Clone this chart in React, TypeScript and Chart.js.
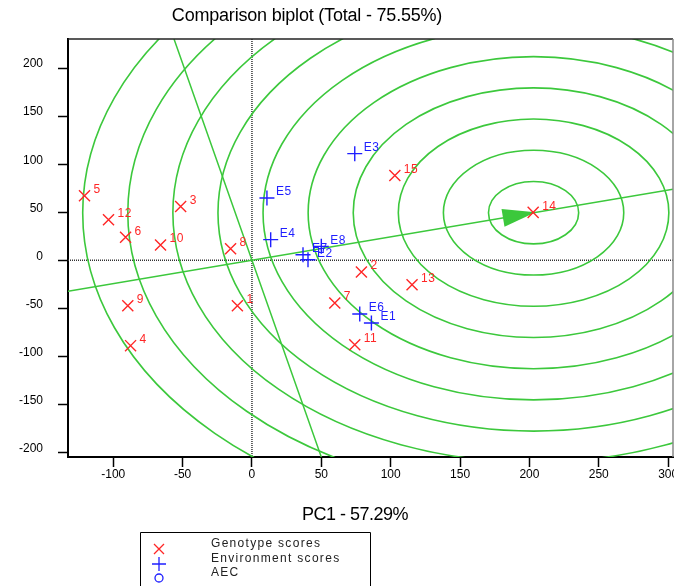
import { useEffect, useRef } from "react";
import { Chart, registerables } from "chart.js";

Chart.register(...registerables);

// ---- data ----
const genotypeLabels = ["1", "2", "3", "4", "5", "6", "7", "8", "9", "10", "11", "12", "13", "14", "15"];
const genotypeX = [-10.5, 78.9, -51.4, -87.5, -120.7, -91.1, 59.7, -15.4, -89.5, -65.9, 74.1, -103.4, 115.4, 202.7, 103];
const genotypeY = [-47.4, -12.3, 56, -89, 67.2, 23.8, -44.6, 12, -47.4, 15.8, -88, 42.2, -25.5, 49.8, 88.3];

const envLabels = ["E1", "E2", "E3", "E4", "E5", "E6", "E7", "E8"];
const envX = [86.1, 40.4, 74.1, 13.5, 10.8, 77.7, 36.8, 50];
const envY = [-65.4, 0.5, 111, 21.4, 64.8, -56, 5.7, 14.4];

// ideal (AEC) point and concentric rings
const idealPoint = [203, 49.5];
const ringStep = 32.5;
const ringCount = 10;

const xRange = [-132.6, 303.5];
const yRange = [-205, 230.4];
const tickStep = 50;

const titleText = "Comparison biplot (Total - 75.55%)";
const xTitleText = "PC1 - 57.29%";
const legendItems = ["Genotype scores", "Environment scores", "AEC"];

const RED = "#ff2626";
const BLUE = "#1f1fff";
const GREEN = "#3cc83c";
const FONT = "'Liberation Sans', Arial, sans-serif";

const zeroPadding = () => ({ left: 0, top: 0, right: 0, bottom: 0 });

const biplotPlugin = {
  id: "biplot",
  beforeDatasetsDraw(chart: any) {
    const { ctx, chartArea: a, scales } = chart;
    const xs = scales.x;
    const ys = scales.y;
    ctx.save();
    ctx.beginPath();
    ctx.rect(a.left, a.top, a.right - a.left, a.bottom - a.top);
    ctx.clip();

    // dotted zero lines
    ctx.strokeStyle = "#333";
    ctx.lineWidth = 1.5;
    ctx.setLineDash([1, 1]);
    const x0 = xs.getPixelForValue(0);
    const y0 = ys.getPixelForValue(0);
    ctx.beginPath();
    ctx.moveTo(x0, a.top);
    ctx.lineTo(x0, a.bottom);
    ctx.moveTo(a.left, y0);
    ctx.lineTo(a.right, y0);
    ctx.stroke();
    ctx.setLineDash([]);

    // rings
    const cx = xs.getPixelForValue(idealPoint[0]);
    const cy = ys.getPixelForValue(idealPoint[1]);
    ctx.strokeStyle = GREEN;
    ctx.lineWidth = 1.6;
    for (let k = 1; k <= ringCount; k++) {
      const r = ringStep * k;
      const rx = Math.abs(xs.getPixelForValue(idealPoint[0] + r) - cx);
      const ry = Math.abs(ys.getPixelForValue(idealPoint[1] + r) - cy);
      ctx.beginPath();
      ctx.ellipse(cx, cy, rx, ry, 0, 0, Math.PI * 2);
      ctx.stroke();
    }

    // AEC abscissa and ordinate
    const slope = idealPoint[1] / idealPoint[0];
    ctx.lineWidth = 1.5;
    ctx.beginPath();
    ctx.moveTo(xs.getPixelForValue(xRange[0]), ys.getPixelForValue(slope * xRange[0]));
    ctx.lineTo(xs.getPixelForValue(xRange[1]), ys.getPixelForValue(slope * xRange[1]));
    ctx.moveTo(xs.getPixelForValue(-slope * yRange[1]), ys.getPixelForValue(yRange[1]));
    ctx.lineTo(xs.getPixelForValue(-slope * yRange[0]), ys.getPixelForValue(yRange[0]));
    ctx.stroke();

    // arrow head
    let ux = cx - x0;
    let uy = cy - y0;
    const len = Math.hypot(ux, uy);
    ux /= len;
    uy /= len;
    const bx = cx - 31 * ux;
    const by = cy - 31 * uy;
    const nx = -uy;
    const ny = ux;
    ctx.fillStyle = GREEN;
    ctx.beginPath();
    ctx.moveTo(cx + 2 * ux, cy + 2 * uy);
    ctx.lineTo(bx + 9 * nx, by + 9 * ny);
    ctx.lineTo(bx - 9 * nx, by - 9 * ny);
    ctx.closePath();
    ctx.fill();
    ctx.restore();
  },
  afterDatasetsDraw(chart: any) {
    const { ctx, scales } = chart;
    const xs = scales.x;
    const ys = scales.y;
    ctx.save();
    ctx.font = `12px ${FONT}`;
    ctx.textAlign = "left";
    ctx.textBaseline = "middle";
    (ctx as any).letterSpacing = "0.5px";
    ctx.fillStyle = RED;
    genotypeLabels.forEach((t, i) => {
      ctx.fillText(t, xs.getPixelForValue(genotypeX[i]) + 9, ys.getPixelForValue(genotypeY[i]) - 6);
    });
    ctx.fillStyle = BLUE;
    envLabels.forEach((t, i) => {
      ctx.fillText(t, xs.getPixelForValue(envX[i]) + 9, ys.getPixelForValue(envY[i]) - 6);
    });
    ctx.restore();
  },
  afterDraw(chart: any) {
    const { ctx, chartArea: a } = chart;
    ctx.save();
    // top & right frame
    ctx.strokeStyle = "#222";
    ctx.lineWidth = 1.5;
    ctx.beginPath();
    ctx.moveTo(a.left, a.top);
    ctx.lineTo(a.right, a.top);
    ctx.stroke();
    ctx.strokeStyle = "#888";
    ctx.beginPath();
    ctx.moveTo(a.right, a.top);
    ctx.lineTo(a.right, a.bottom);
    ctx.stroke();

    // titles
    ctx.fillStyle = "#000";
    ctx.textAlign = "center";
    ctx.textBaseline = "middle";
    ctx.font = `18px ${FONT}`;
    (ctx as any).letterSpacing = "-0.2px";
    ctx.fillText(titleText, 307, 16);
    ctx.font = `18px ${FONT}`;
    (ctx as any).letterSpacing = "-0.5px";
    ctx.fillText(xTitleText, 355, 515);
    (ctx as any).letterSpacing = "0px";

    // legend
    ctx.strokeStyle = "#000";
    ctx.lineWidth = 1;
    ctx.beginPath();
    ctx.moveTo(140.5, 600);
    ctx.lineTo(140.5, 532.5);
    ctx.lineTo(370.5, 532.5);
    ctx.lineTo(370.5, 600);
    ctx.stroke();
    const mx = 159;
    ctx.lineWidth = 1.3;
    ctx.strokeStyle = RED;
    ctx.beginPath();
    ctx.moveTo(mx - 5, 544);
    ctx.lineTo(mx + 5, 554);
    ctx.moveTo(mx + 5, 544);
    ctx.lineTo(mx - 5, 554);
    ctx.stroke();
    ctx.strokeStyle = BLUE;
    ctx.beginPath();
    ctx.moveTo(mx - 7, 564);
    ctx.lineTo(mx + 7, 564);
    ctx.moveTo(mx, 557);
    ctx.lineTo(mx, 571);
    ctx.stroke();
    ctx.beginPath();
    ctx.arc(mx, 578, 4, 0, Math.PI * 2);
    ctx.stroke();
    ctx.fillStyle = "#222";
    ctx.textAlign = "left";
    ctx.font = `12px ${FONT}`;
    (ctx as any).letterSpacing = "1.3px";
    ctx.fillText(legendItems[0], 211, 544);
    ctx.fillText(legendItems[1], 211, 558.5);
    ctx.fillText(legendItems[2], 211, 573);
    ctx.restore();
  },
};

export default function App() {
  const ref = useRef<HTMLCanvasElement | null>(null);
  useEffect(() => {
    document.body.style.margin = "0";
    if (!ref.current) return;
    const chart = new Chart(ref.current, {
      type: "scatter",
      data: {
        datasets: [
          {
            label: "Genotype scores",
            data: genotypeX.map((x, i) => ({ x, y: genotypeY[i] })),
            pointStyle: "crossRot",
            pointRadius: 7.8,
            pointBorderColor: RED,
            pointBorderWidth: 1.4,
            borderColor: RED,
          },
          {
            label: "Environment scores",
            data: envX.map((x, i) => ({ x, y: envY[i] })),
            pointStyle: "cross",
            pointRadius: 7.5,
            pointBorderColor: BLUE,
            pointBorderWidth: 1.4,
            borderColor: BLUE,
          },
        ],
      },
      options: {
        animation: false,
        responsive: false,
        devicePixelRatio: 1,
        layout: { autoPadding: false, padding: { top: 39, right: 1, bottom: 99, left: 0 } },
        plugins: { legend: { display: false }, tooltip: { enabled: false }, title: { display: false } },
        scales: {
          x: {
            type: "linear",
            min: xRange[0],
            max: xRange[1],
            afterFit: (s: any) => {
              s.height = 30;
              s.paddingLeft = 0;
              s.paddingRight = 0;
              s.getPadding = zeroPadding;
            },
            ticks: {
              stepSize: tickStep,
              includeBounds: false,
              color: "#000",
              font: { family: FONT, size: 12 },
              padding: 0,
              maxRotation: 0,
            },
            grid: { drawOnChartArea: false, drawTicks: true, tickLength: 10, tickColor: "#000", tickWidth: 1.5 },
            border: { display: true, color: "#000", width: 2 },
          },
          y: {
            type: "linear",
            min: yRange[0],
            max: yRange[1],
            afterFit: (s: any) => {
              s.width = 68;
              s.paddingTop = 0;
              s.paddingBottom = 0;
              s.getPadding = zeroPadding;
            },
            ticks: {
              stepSize: tickStep,
              includeBounds: false,
              color: "#000",
              font: { family: FONT, size: 12 },
              padding: 15,
              labelOffset: -4,
            },
            grid: { drawOnChartArea: false, drawTicks: true, tickLength: 10, tickColor: "#000", tickWidth: 1.5 },
            border: { display: true, color: "#000", width: 2 },
          },
        },
      },
      plugins: [biplotPlugin],
    });
    return () => chart.destroy();
  }, []);
  return <canvas ref={ref} width={674} height={586} style={{ display: "block" }} />;
}
